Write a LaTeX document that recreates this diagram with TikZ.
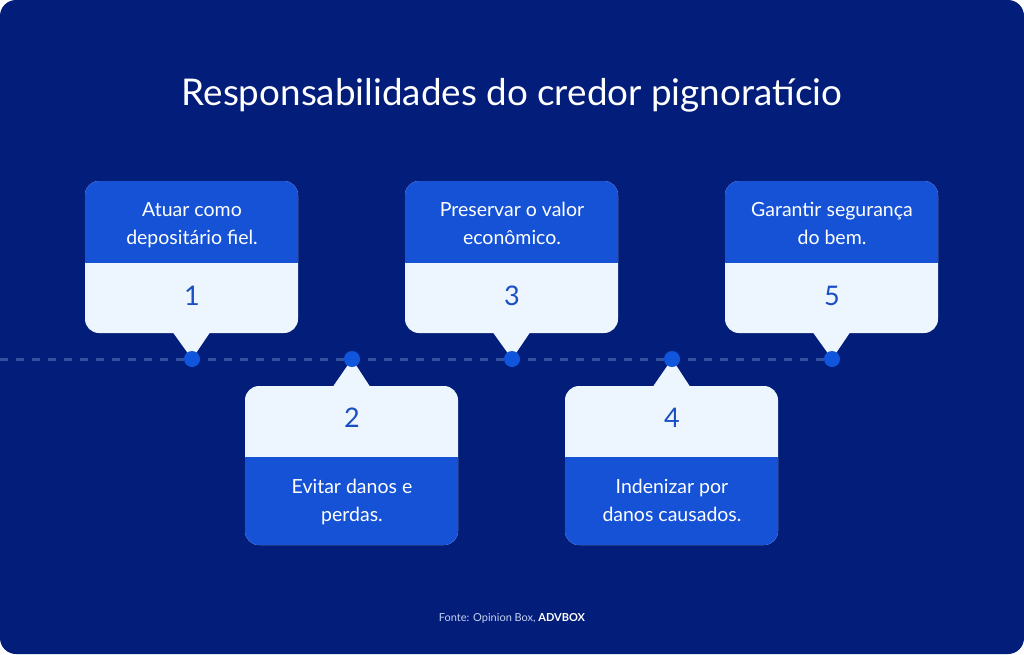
\documentclass[tikz,border=0pt]{standalone}
\usepackage{fontspec}
\setmainfont{Lato}
\usepackage{tikz}
\usetikzlibrary{positioning}

\definecolor{bgnavy}{HTML}{031D7A}
\definecolor{cardblue}{HTML}{1552D6}
\definecolor{cardlight}{HTML}{EDF5FE}
\definecolor{numblue}{HTML}{1A4FC4}
\definecolor{dotblue}{HTML}{0F56DC}
\definecolor{dashblue}{HTML}{34519F}
\definecolor{footgrey}{HTML}{C6D3F0}

\tikzset{
  cardup/.style={
    inner sep=0pt,
    rounded corners=14pt,
    fill=cardlight,
    minimum width=213pt,
    minimum height=152pt,
    path picture={\fill[cardblue, sharp corners] (path picture bounding box.north west)
      rectangle ([yshift=-82pt]path picture bounding box.north east);}
  },
  carddown/.style={
    inner sep=0pt,
    rounded corners=14pt,
    fill=cardlight,
    minimum width=213pt,
    minimum height=159pt,
    path picture={\fill[cardblue, sharp corners] (path picture bounding box.south west)
      rectangle ([yshift=88pt]path picture bounding box.south east);}
  },
  cardtext/.style={
    text=white,
    align=center,
    font=\fontsize{19.5}{28}\selectfont
  },
  cardnum/.style={
    text=numblue,
    font=\fontsize{27}{30}\selectfont
  },
  dot/.style={
    circle,
    fill=dotblue,
    inner sep=0pt,
    minimum size=16pt
  }
}

\begin{document}
\begin{tikzpicture}[x=1pt, y=-1pt]

% Fons
\fill[white] (0,0) rectangle (1024,654);
\fill[bgnavy, rounded corners=16pt] (0,0) rectangle (1024,654);
\useasboundingbox (0,0) rectangle (1024,654);

% Titol
\node[text=white, font=\fontsize{36.8}{42}\selectfont] (title) at (512,95)
  {Responsabilidades do credor pignoratício};

% Punts de la linia
\coordinate (lstart) at (0,359);
\coordinate (p1) at (192,359);
\coordinate (p2) at (352,359);
\coordinate (p3) at (512,359);
\coordinate (p4) at (672,359);
\coordinate (p5) at (832,359);

% Linia discontinua
\draw[
    dashblue,
    line width=3pt,
    dash pattern=on 8pt off 8pt
] (lstart) -- (p5);

% Targetes de dalt
\node[cardup] (c1) at (191.5,257) {};
\node[cardup] (c3) at (511.5,257) {};
\node[cardup] (c5) at (831.5,257) {};

% Targetes de baix
\node[carddown] (c2) at (351.5,465.5) {};
\node[carddown] (c4) at (671.5,465.5) {};

% Punxes
\fill[cardlight] ([xshift=-18pt]c1.south) -- ([xshift=18pt]c1.south) -- (p1) -- cycle;
\fill[cardlight] ([xshift=-18pt]c3.south) -- ([xshift=18pt]c3.south) -- (p3) -- cycle;
\fill[cardlight] ([xshift=-18pt]c5.south) -- ([xshift=18pt]c5.south) -- (p5) -- cycle;
\fill[cardlight] ([xshift=-18pt]c2.north) -- ([xshift=18pt]c2.north) -- (p2) -- cycle;
\fill[cardlight] ([xshift=-18pt]c4.north) -- ([xshift=18pt]c4.north) -- (p4) -- cycle;

% Punts
\node[dot] (d1) at (p1) {};
\node[dot] (d2) at (p2) {};
\node[dot] (d3) at (p3) {};
\node[dot] (d4) at (p4) {};
\node[dot] (d5) at (p5) {};

% Textos de dalt
\node[cardtext] (t1) at (192,225) {Atuar como\\depositário fiel.};
\node[cardtext] (t3) at (512,223) {Preservar o valor\\econômico.};
\node[cardtext] (t5) at (832,223) {Garantir segurança\\do bem.};
\node[cardnum] (n1) at (192,296) {1};
\node[cardnum] (n3) at (512,296) {3};
\node[cardnum] (n5) at (832,296) {5};

% Textos de baix
\node[cardnum] (n2) at (352,418) {2};
\node[cardnum] (n4) at (672,418) {4};
\node[cardtext] (t2) at (352,502) {Evitar danos e\\perdas.};
\node[cardtext] (t4) at (672,500) {Indenizar por\\danos causados.};

% Font
\node[text=footgrey, font=\fontsize{11}{13}\selectfont] (foot) at (512,618)
  {Fonte: Opinion Box, \textbf{\color{white}ADVBOX}};

\end{tikzpicture}
\end{document}
